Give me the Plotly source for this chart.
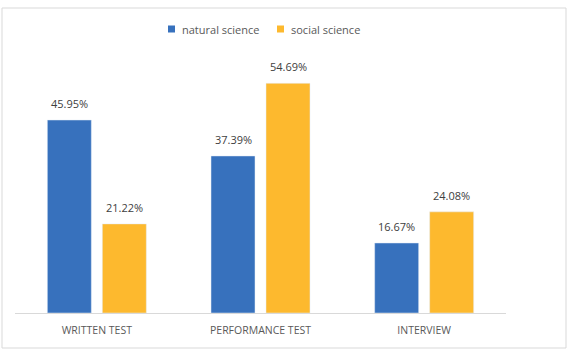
import plotly.graph_objects as go

categories = ["WRITTEN TEST", "PERFORMANCE TEST", "INTERVIEW"]
natural_science = [45.95, 37.39, 16.67]
social_science = [21.22, 54.69, 24.08]
series_names = ["natural science", "social science"]
colors = ["#3771BD", "#FDB92E"]

W, H = 570, 351
ml, mr, mt, mb = 15, 64, 61, 38
pw, ph = W - ml - mr, H - mt - mb

def px_x(X):
    return (X - ml) / pw

def px_y(Y):
    return (H - mb - Y) / ph

fig = go.Figure()
offsets = [-27.5, 27.5]
for name, vals, col, off in zip(series_names, [natural_science, social_science], colors, offsets):
    fig.add_trace(go.Bar(
        x=categories, y=vals, name=name, marker_color=col, showlegend=False,
        hoverinfo="skip",
    ))
    for c, v in zip(categories, vals):
        fig.add_annotation(x=c, y=v, text=f"{v:.2f}%", showarrow=False,
                           xshift=off, yshift=7, yanchor="bottom",
                           font=dict(family="Open Sans", size=11, color="#404040"))

# legend (manual, to match small swatches)
legend_pos = [(168, 180), (277, 289)]
for name, col, (sx, tx) in zip(series_names, colors, legend_pos):
    fig.add_shape(type="rect", xref="paper", yref="paper",
                  x0=px_x(sx), x1=px_x(sx + 7), y0=px_y(32.5), y1=px_y(25.5),
                  fillcolor=col, line=dict(width=0))
    fig.add_annotation(xref="paper", yref="paper", x=px_x(tx), y=px_y(29),
                       xanchor="left", yanchor="middle", showarrow=False,
                       text=name, font=dict(family="Open Sans", size=11, color="#595959"))

fig.add_shape(type="rect", xref="paper", yref="paper",
              x0=px_x(2), x1=px_x(566), y0=px_y(348), y1=px_y(8),
              line=dict(color="#D9D9D9", width=1), layer="below")

fig.update_layout(
    width=W, height=H,
    margin=dict(l=ml, r=mr, t=mt, b=mb),
    paper_bgcolor="white", plot_bgcolor="white",
    barmode="group", bargap=0.328, bargroupgap=0.2,
    font=dict(family="Open Sans", color="#595959"),
    showlegend=False,
    xaxis=dict(showline=True, linecolor="#D9D9D9", linewidth=1, ticks="",
               tickfont=dict(size=10.5, color="#595959"), showgrid=False,
               ticklabelstandoff=7),
    yaxis=dict(range=[0, 60], visible=False, showgrid=False),
)

fig.write_html("out.html")
